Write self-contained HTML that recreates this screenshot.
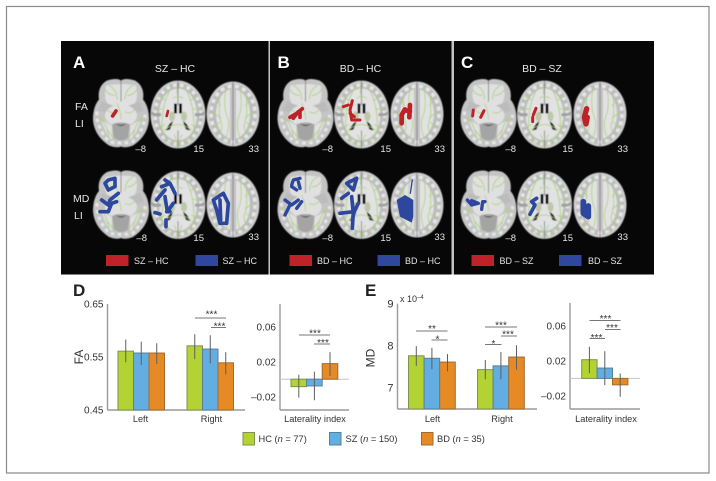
<!DOCTYPE html>
<html lang="en">
<head>
<meta charset="utf-8">
<title>FA and MD laterality index in SZ, BD and HC</title>
<style>
  html, body { margin: 0; padding: 0; background: #fff; }
  body { width: 716px; height: 481px; overflow: hidden; }
  svg { display: block; font-family: "Liberation Sans", sans-serif; }
  .pl { font-size: 17px; font-weight: bold; }
  .wt { fill: #e4e4e4; font-size: 10.5px; }
  .sl { fill: #e4e4e4; font-size: 9.5px; text-anchor: end; }
  .br { stroke: #777; stroke-width: 1; }
  .st { fill: #333; font-size: 10px; text-anchor: middle; }
  .red { fill: none; stroke: #bf2228; stroke-linejoin: round; stroke-linecap: round; }
  .blue { fill: none; stroke: #2f479e; stroke-linejoin: round; stroke-linecap: round; }
  .gr { fill: none; stroke: #a9d16e; stroke-width: .8; }
</style>
</head>
<body>
<svg id="figure" width="716" height="481" viewBox="0 0 716 481" xmlns="http://www.w3.org/2000/svg">
  <defs>
    <filter id="soft" x="-10%" y="-10%" width="120%" height="120%"><feGaussianBlur stdDeviation="0.6"/></filter>
    <filter id="blob" x="-20%" y="-20%" width="140%" height="140%"><feGaussianBlur stdDeviation="1.1"/></filter>
    <symbol id="b15" viewBox="-28 -35 56 70" width="56" height="70" overflow="visible">
      <g filter="url(#soft)">
        <ellipse rx="27.5" ry="34" fill="#bcbcbc"/>
        <ellipse rx="26" ry="32.5" fill="none" stroke="#d2d2d2" stroke-width="1.5"/>
        <ellipse rx="23" ry="29.5" fill="none" stroke="#e6e6e6" stroke-width="3.5" stroke-dasharray="3.5 3.5"/>
        <ellipse rx="19" ry="26" fill="#e2e2e2"/>
        <path d="M-17 0Q-24 1-27 -2M17 0Q24 1 27 -2" stroke="#a0a0a0" stroke-width="3" fill="none"/>
        <path d="M0 -34V-9M0 16V34" stroke="#777" stroke-width=".8"/>
        <path d="M-4 -11h3v10h-3zM1 -11h3v10h-3z" fill="#111"/>
        <path d="M-12 16Q-9 8-5 7L-8 15ZM12 16Q9 8 5 7L8 15Z" fill="#111"/>
        <ellipse cx="-6" cy="2" rx="3" ry="5" fill="#bcc8a8"/><ellipse cx="6" cy="2" rx="3" ry="5" fill="#bcc8a8"/>
        <path class="gr" d="M-6 -28Q-12 -18-14 -8T-16 14Q-14 24-6 30M6 -28Q12 -18 14 -8T16 14Q14 24 6 30M-5 -16Q0 -20 5 -16M-14 16Q0 4 14 16M-24 -4L-14 -6M24 -4L14 -6M-20 -18L-12 -14M20 -18L12 -14M-20 14L-13 10M20 14L13 10M-1 -30V-20M-4 20Q0 28 -2 32M4 20Q0 28 2 32"/>
      </g>
    </symbol>
    <symbol id="b33" viewBox="-28 -35 56 70" width="56" height="70" overflow="visible">
      <g filter="url(#soft)">
        <ellipse rx="26.5" ry="32.5" fill="#bcbcbc"/>
        <ellipse rx="25" ry="31" fill="none" stroke="#d2d2d2" stroke-width="1.5"/>
        <ellipse rx="22" ry="28" fill="none" stroke="#e6e6e6" stroke-width="3.5" stroke-dasharray="4 3.5"/>
        <ellipse rx="17" ry="25" fill="#e2e2e2"/>
        <rect x="-3" y="-26" width="6" height="52" fill="#c2c2c2"/>
        <path d="M0 -32V32" stroke="#777" stroke-width=".8"/>
        <path class="gr" d="M-7 -26Q-10 -8-6 2T-8 26M7 -26Q10 -8 6 2T8 26M-13 -18Q-15 0-12 8T-16 22M13 -18Q15 0 12 8T16 22M-20 -2L-12 4M20 -2L12 4M-20 14L-13 8M20 14L13 8M-17 -14L-12 -8M17 -14L12 -8"/>
      </g>
    </symbol>
    <symbol id="bm8" viewBox="-28 -35 56 70" width="56" height="70" overflow="visible">
      <g filter="url(#soft)">
        <path d="M-14 -33Q-4 -36 0 -33Q4 -36 14 -33Q24 -27 22 -14Q28 -7 28 6Q27 22 12 32Q4 35 0 33Q-4 35 -12 32Q-27 22 -28 6Q-28 -7 -22 -14Q-24 -27 -14 -33Z" fill="#c4c4c4"/>
        <path d="M-24 -2Q-25 14 -12 28Q0 31 12 28Q25 14 24 -2" fill="none" stroke="#e6e6e6" stroke-width="3" stroke-dasharray="3.5 3.5"/>
        <path d="M-15 -28Q0 -31 15 -28Q18 -14 12 -8H-12Q-18 -14 -15 -28Z" fill="#e0e0e0"/>
        <path d="M-19 -12L-8 -8L-12 0L-23 -3ZM19 -12L8 -8L12 0L23 -3Z" fill="#bcbcbc"/>
        <ellipse cy="2" rx="16" ry="11" fill="#e0e0e0"/>
        <path d="M-20 6Q-14 24 -9 26L-9 12ZM20 6Q14 24 9 26L9 12Z" fill="#e0e0e0"/>
        <path d="M-9 11Q0 7 9 11L7 24Q0 30 -7 24Z" fill="#a4a4a4"/>
        <path d="M-7 9Q0 14 7 9L4 11Q0 14 -4 11Z" fill="#111"/>
        <path d="M0 -33V-12" stroke="#777" stroke-width=".8"/>
        <path class="gr" d="M-12 -28Q-4 -24-4 -14M12 -28Q4 -24 4 -14M-16 -24Q-12 -18-6 -18M16 -24Q12 -18 6 -18M-4 -10Q0 -2 0 6M-14 -4Q-8 2-4 -2M14 -4Q8 2 4 -2M-20 4Q-14 12-12 24M20 4Q14 12 12 24M-24 4L-18 8M24 4L18 8M-14 16L-6 26M14 16L6 26"/>
      </g>
    </symbol>
  </defs>

  <rect x="0" y="0" width="716" height="481" fill="#ffffff"/>
  <rect x="6.5" y="6.5" width="702.5" height="466.5" fill="none" stroke="#8a8a8a" stroke-width="1.2"/>

  <rect x="61" y="41" width="207.5" height="233.5" fill="#070707"/>
  <rect x="270" y="41" width="181.5" height="233.5" fill="#070707"/>
  <rect x="454" y="41" width="200" height="233.5" fill="#070707"/>
  <rect x="268.5" y="41" width="1.5" height="233.5" fill="#c4c4c4"/>
  <rect x="451.5" y="41" width="2.5" height="233.5" fill="#c4c4c4"/>

  <!-- Panel A -->
  <g>
    <text class="pl" x="73" y="68" fill="#fff">A</text>
    <text class="wt" x="175" y="72" text-anchor="middle">SZ – HC</text>
    <text class="wt" x="75" y="110">FA</text>
    <text class="wt" x="75" y="127">LI</text>
    <text class="wt" x="73" y="202">MD</text>
    <text class="wt" x="74" y="219">LI</text>
    <use href="#bm8" x="93" y="78.5"/>
    <use href="#b15" x="150" y="79.5"/>
    <use href="#b33" x="205" y="79"/>
    <use href="#bm8" x="93" y="170"/>
    <use href="#b15" x="150" y="170"/>
    <use href="#b33" x="205" y="170"/>
    <g transform="translate(50 30) scale(.3333)" filter="url(#blob)">
      <path class="red" stroke-width="11" d="M188 258L198 243"/>
      <path class="red" stroke-width="8" d="M350 258L354 243"/>
      <path class="blue" stroke-width="11" d="M175 450L195 445L195 470L175 480L165 460ZM205 490L180 510L175 525L155 510M150 545L175 545L185 520L200 515"/>
      <path class="blue" stroke-width="11" d="M335 470L360 460L345 450M360 460L375 490M320 510L345 480M345 500L352 545L370 520M350 545L360 545M315 548L330 552M348 570L348 590"/>
      <path class="blue" stroke-width="11" d="M490 510L520 490L535 520L530 580L510 580L500 540ZM510 510L512 570"/>
    </g>
    <text class="sl" x="146" y="152">–8</text>
    <text class="sl" x="204" y="152">15</text>
    <text class="sl" x="259" y="152">33</text>
    <text class="sl" x="147" y="241">–8</text>
    <text class="sl" x="204" y="241">15</text>
    <text class="sl" x="259" y="240">33</text>
    <rect x="106" y="255" width="22.5" height="11" fill="#bf2228"/>
    <text class="wt" x="134" y="264" style="font-size:9px">SZ – HC</text>
    <rect x="195.5" y="255" width="22.5" height="11" fill="#2f479e"/>
    <text class="wt" x="222.5" y="264" style="font-size:9px">SZ – HC</text>
  </g>

  <!-- Panel B -->
  <g>
    <text class="pl" x="277.5" y="68" fill="#fff">B</text>
    <text class="wt" x="360.5" y="72" text-anchor="middle">BD – HC</text>
    <use href="#bm8" x="277.5" y="78.5"/>
    <use href="#b15" x="333.5" y="79.5"/>
    <use href="#b33" x="389" y="79"/>
    <use href="#bm8" x="277.5" y="170"/>
    <use href="#b15" x="333.5" y="170"/>
    <use href="#b33" x="389" y="170"/>
    <g transform="translate(265 30) scale(.3333)" filter="url(#blob)">
      <path class="red" stroke-width="11" d="M75 262L95 250L112 236M85 265L100 245M105 262L105 245"/>
      <path class="red" stroke-width="9" d="M235 230L250 225M262 212L255 240L260 270L285 270M255 250L268 260"/>
      <path class="red" stroke-width="14" d="M410 280L410 255L420 238M435 225L433 262M420 240L435 245"/>
      <path class="blue" stroke-width="10" d="M80 465L85 450L105 445M100 455L105 475M95 480L80 470M60 510L80 525L100 510M60 555L75 525M95 535L110 515"/>
      <path class="blue" stroke-width="11" d="M245 460L275 445L265 480L250 465M230 505L250 490M260 500L265 550L280 520M225 550L265 545L262 595"/>
      <path d="M395 510L420 495L445 510L445 560L440 578L405 560Z" fill="#2f479e"/>
      <path class="blue" stroke-width="4" d="M442 450L436 490"/>
    </g>
    <text class="sl" x="333" y="152">–8</text>
    <text class="sl" x="391" y="152">15</text>
    <text class="sl" x="445" y="152">33</text>
    <text class="sl" x="333" y="241">–8</text>
    <text class="sl" x="391" y="241">15</text>
    <text class="sl" x="445" y="240">33</text>
    <rect x="289.5" y="255" width="22.5" height="11" fill="#bf2228"/>
    <text class="wt" x="317" y="264" style="font-size:9px">BD – HC</text>
    <rect x="377.5" y="255" width="22.5" height="11" fill="#2f479e"/>
    <text class="wt" x="405" y="264" style="font-size:9px">BD – HC</text>
  </g>

  <!-- Panel C -->
  <g>
    <text class="pl" x="461" y="68" fill="#fff">C</text>
    <text class="wt" x="542" y="72" text-anchor="middle">BD – SZ</text>
    <use href="#bm8" x="460.5" y="78.5"/>
    <use href="#b15" x="516.5" y="79.5"/>
    <use href="#b33" x="572" y="79"/>
    <use href="#bm8" x="460.5" y="170"/>
    <use href="#b15" x="516.5" y="170"/>
    <use href="#b33" x="572" y="170"/>
    <g transform="translate(450 30) scale(.3333)" filter="url(#blob)">
      <path class="red" stroke-width="9" d="M70 240L68 258M92 262L102 242"/>
      <path class="red" stroke-width="9" d="M258 235L250 255M248 262L248 275"/>
      <path class="red" stroke-width="16" d="M410 236L403 262L408 282L412 262"/>
      <path class="blue" stroke-width="10" d="M52 510L65 525L85 520L65 512M95 538L98 515L105 515"/>
      <path class="blue" stroke-width="11" d="M260 505L245 515L255 525L240 553"/>
      <path class="blue" stroke-width="17" d="M400 515L400 550L415 560L415 528"/>
    </g>
    <text class="sl" x="516" y="152">–8</text>
    <text class="sl" x="573" y="152">15</text>
    <text class="sl" x="628" y="152">33</text>
    <text class="sl" x="516" y="241">–8</text>
    <text class="sl" x="573" y="241">15</text>
    <text class="sl" x="628" y="240">33</text>
    <rect x="471.5" y="255" width="22.5" height="11" fill="#bf2228"/>
    <text class="wt" x="499.5" y="264" style="font-size:9px">BD – SZ</text>
    <rect x="559" y="255" width="22.5" height="11" fill="#2f479e"/>
    <text class="wt" x="588" y="264" style="font-size:9px">BD – SZ</text>
  </g>

  <!-- Bar chart containers filled by script -->
  <g id="chart-d"></g>
  <g id="chart-d-li"></g>
  <g id="chart-e"></g>
  <g id="chart-e-li"></g>

  <text class="pl" x="73" y="296" fill="#222">D</text>
  <text class="pl" x="365" y="296" fill="#222">E</text>
  <text x="78.5" y="357" transform="rotate(-90 78.5 357)" dy="4.5" text-anchor="middle" font-size="12" fill="#333">FA</text>
  <text x="370" y="358" transform="rotate(-90 370 358)" dy="4.5" text-anchor="middle" font-size="12" fill="#333">MD</text>
  <text x="400" y="302" font-size="9" fill="#333">x 10<tspan dy="-3" font-size="6">–4</tspan></text>

  <!-- Significance brackets -->
  <g>
    <line class="br" x1="195" x2="226" y1="318" y2="318"/><text class="st" x="211.5" y="317.5">***</text>
    <line class="br" x1="211" x2="226" y1="327.5" y2="327.5"/><text class="st" x="219.5" y="329.5">***</text>
    <line class="br" x1="299" x2="330" y1="335" y2="335"/><text class="st" x="315" y="336.5">***</text>
    <line class="br" x1="314" x2="330" y1="344" y2="344"/><text class="st" x="323" y="346">***</text>
  </g>
  <g>
    <line class="br" x1="416" x2="447.5" y1="331" y2="331"/><text class="st" x="432" y="332">**</text>
    <line class="br" x1="431.5" x2="447.5" y1="340" y2="340"/><text class="st" x="437.5" y="342.5">*</text>
    <line class="br" x1="485" x2="517" y1="327" y2="327"/><text class="st" x="501" y="328.5">***</text>
    <line class="br" x1="501" x2="517" y1="336" y2="336"/><text class="st" x="508" y="337.5">***</text>
    <line class="br" x1="485" x2="501.5" y1="344.5" y2="344.5"/><text class="st" x="493.5" y="347">*</text>
    <line class="br" x1="589.5" x2="620.5" y1="320.5" y2="320.5"/><text class="st" x="605.5" y="322">***</text>
    <line class="br" x1="605" x2="620.5" y1="329.5" y2="329.5"/><text class="st" x="612" y="331">***</text>
    <line class="br" x1="589.5" x2="605" y1="338.5" y2="338.5"/><text class="st" x="596.5" y="341">***</text>
  </g>

  <!-- Group legend -->
  <g>
    <rect x="243" y="432.5" width="11.5" height="12.5" fill="#b3d234" stroke="#7f9350" stroke-width="1"/>
    <text x="258.5" y="442" font-size="9.3" fill="#333">HC (<tspan font-style="italic">n</tspan> = 77)</text>
    <rect x="329.5" y="432.5" width="11.5" height="12.5" fill="#62aee2" stroke="#5a8099" stroke-width="1"/>
    <text x="345.5" y="442" font-size="9.3" fill="#333">SZ (<tspan font-style="italic">n</tspan> = 150)</text>
    <rect x="421.5" y="432.5" width="11.5" height="12.5" fill="#e58a25" stroke="#a06c34" stroke-width="1"/>
    <text x="437" y="442" font-size="9.3" fill="#333">BD (<tspan font-style="italic">n</tspan> = 35)</text>
  </g>
</svg>

<script>
// Chart data
const groups = ['HC', 'SZ', 'BD'];
const hemispheres = ['Left', 'Right'];

const faTicks = [0.45, 0.55, 0.65];
const faHC = [0.561, 0.571];
const faSZ = [0.5575, 0.565];
const faBD = [0.5575, 0.539];
const faHCHigh = [0.583, 0.593];
const faSZHigh = [0.579, 0.591];
const faBDHigh = [0.576, 0.559];
const faHCLow = [0.540, 0.546];
const faSZLow = [0.535, 0.538];
const faBDLow = [0.537, 0.517];

const mdTicks = [7, 8, 9];
const mdHC = [7.76, 7.43];
const mdSZ = [7.70, 7.52];
const mdBD = [7.61, 7.73];
const mdHCHigh = [7.99, 7.66];
const mdSZHigh = [7.95, 7.85];
const mdBDHigh = [7.80, 8.01];
const mdHCLow = [7.52, 7.20];
const mdSZLow = [7.44, 7.20];
const mdBDLow = [7.39, 7.43];

const liTicks = [-0.02, 0.02, 0.06];
const faLI = [-0.0085, -0.0077, 0.0178];
const faLIHigh = [0.005, 0.0086, 0.031];
const faLILow = [-0.021, -0.024, 0.004];
const mdLI = [0.0213, 0.0118, -0.0073];
const mdLIHigh = [0.036, 0.031, 0.0057];
const mdLILow = [0.006, -0.0076, -0.021];

const NS = 'http://www.w3.org/2000/svg';
const fills = ['#b3d234', '#62aee2', '#e58a25'];
const edges = ['#7f9350', '#5a8099', '#a06c34'];

function add(parent, tag, attrs, text) {
  const el = document.createElementNS(NS, tag);
  for (const k in attrs) el.setAttribute(k, attrs[k]);
  if (text !== undefined) el.textContent = text;
  parent.appendChild(el);
  return el;
}

function linearScale(dMin, dMax, yBottom, yTop) {
  return v => yBottom - (v - dMin) / (dMax - dMin) * (yBottom - yTop);
}

function drawBar(g, x, w, yFrom, yTo, colourIndex, hiY, loY, name) {
  const bar = add(g, 'rect', {
    x: x, y: Math.min(yFrom, yTo), width: w, height: Math.abs(yFrom - yTo),
    fill: fills[colourIndex], stroke: edges[colourIndex], 'stroke-width': 1
  });
  
  
  const err = add(g, 'line', {
    x1: x + w / 2, x2: x + w / 2, y1: hiY, y2: loY, stroke: '#5f5f5f', 'stroke-width': 1
  });
  
  
}

function drawAxes(g, axisX, endX, top, bottom, y, ticks, decimals, label, labelX) {
  const yAxis = add(g, 'line', { x1: axisX, x2: axisX, y1: top, y2: bottom, stroke: '#9a9a9a', 'stroke-width': 1.4 });
  
  
  const xAxis = add(g, 'line', { x1: axisX, x2: endX, y1: bottom, y2: bottom, stroke: '#9a9a9a', 'stroke-width': 1.4 });
  
  
  ticks.forEach(t => {
    const s = (t < 0 ? '–' : '') + Math.abs(t).toFixed(decimals);
    const tick = add(g, 'text', {
      x: axisX - 4, y: y(t) + 3.7, 'text-anchor': 'end', 'font-size': decimals === 0 ? 11 : 10, fill: '#333'
    }, s);
    
    
  });
  if (label) {
    const t = add(g, 'text', { x: labelX, y: 422, 'text-anchor': 'middle', 'font-size': 9.2, fill: '#333' }, label);
    
    
  }
}

function drawGrouped(id, axisX, endX, top, bottom, y, ticks, decimals, starts, barW, series, highs, lows, labelXs) {
  const g = document.getElementById(id);
  drawAxes(g, axisX, endX, top, bottom, y, ticks, decimals);
  hemispheres.forEach((h, i) => {
    series.forEach((vals, s) => {
      drawBar(g, starts[i] + s * barW, barW, bottom, y(vals[i]), s, y(highs[s][i]), y(lows[s][i]),
        h.toLowerCase() + '-' + groups[s].toLowerCase());
    });
    const t = add(g, 'text', { x: labelXs[i], y: 422, 'text-anchor': 'middle', 'font-size': 9.2, fill: '#333' }, h);
    
    
  });
}

function drawLaterality(id, axisX, endX, top, bottom, y, start, barW, vals, highs, lows, labelX) {
  const g = document.getElementById(id);
  drawAxes(g, axisX, endX, top, bottom, y, liTicks, 2, 'Laterality index', labelX);
  const zero = add(g, 'line', { x1: axisX, x2: endX, y1: y(0), y2: y(0), stroke: '#c4c4c4', 'stroke-width': 1 });
  
  
  vals.forEach((v, i) => {
    drawBar(g, start + i * barW, barW, y(0), y(v), i, y(highs[i]), y(lows[i]), 'laterality-' + groups[i].toLowerCase());
  });
}

const faY = linearScale(0.45, 0.65, 410, 304);
const mdY = linearScale(7, 8, 387.7, 345.7);
const dLiY = linearScale(-0.02, 0.06, 396.7, 326.7);
const eLiY = linearScale(-0.02, 0.06, 396, 325.7);

drawGrouped('chart-d', 107.5, 245, 304, 410, faY, faTicks, 2, [118, 187], 15.5,
  [faHC, faSZ, faBD], [faHCHigh, faSZHigh, faBDHigh], [faHCLow, faSZLow, faBDLow], [140.5, 211.5]);
drawLaterality('chart-d-li', 280, 349, 304, 410, dLiY, 291, 15.6, faLI, faLIHigh, faLILow, 315);
drawGrouped('chart-e', 397.5, 537, 303.7, 409, mdY, mdTicks, 0, [408.5, 477.5], 15.6,
  [mdHC, mdSZ, mdBD], [mdHCHigh, mdSZHigh, mdBDHigh], [mdHCLow, mdSZLow, mdBDLow], [432.5, 502]);
drawLaterality('chart-e-li', 570, 640, 303, 409, eLiY, 581.7, 15.4, mdLI, mdLIHigh, mdLILow, 606);
</script>
</body>
</html>
